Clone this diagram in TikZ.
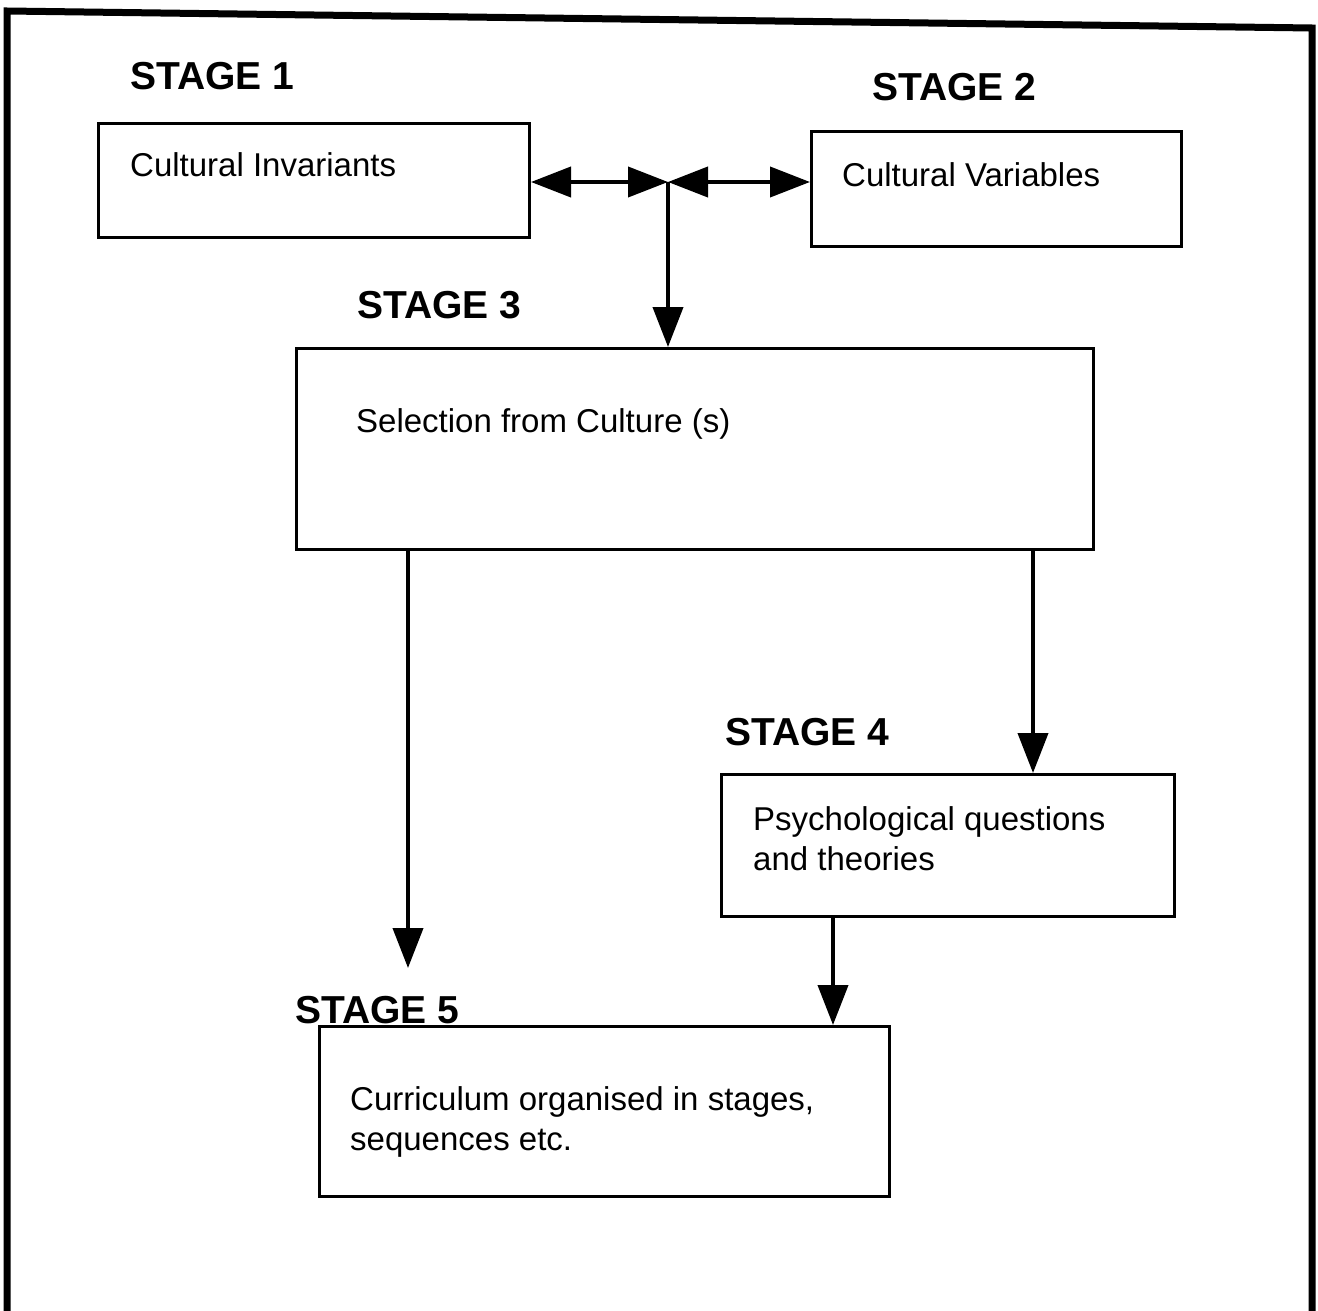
\documentclass[tikz,border=0pt]{standalone}
\usepackage{fontspec}
\setmainfont{Liberation Sans}
\usetikzlibrary{arrows.meta}
\begin{document}
\begin{tikzpicture}[x=1pt,y=-1pt,
  box/.style={draw,line width=3pt,rectangle,inner sep=0pt,anchor=north west},
  body/.style={anchor=base west,inner sep=0pt,align=left,font=\fontsize{33}{40}\selectfont},
  stagelbl/.style={anchor=base west,inner sep=0pt,font=\fontsize{39}{47}\selectfont\bfseries},
  arr/.style={line width=4pt,-{Triangle[length=40pt,width=30pt]}},
  arrtwo/.style={line width=4pt,{Triangle[length=40pt,width=30pt]}-{Triangle[length=40pt,width=30pt]}},
  frame/.style={line width=7pt,line join=miter}]
\useasboundingbox (0,0) rectangle (1318,1311);

% outer frame (top edge slightly tilted)
\draw[frame] (7,1320) -- (7,11) -- (1312,28) -- (1312,1320);

% boxes
\node[box,minimum width=431pt,minimum height=114pt] (b1) at (97,122) {};
\node[box,minimum width=370pt,minimum height=115pt] (b2) at (810,130) {};
\node[box,minimum width=797pt,minimum height=201pt] (b3) at (295,347) {};
\node[box,minimum width=453pt,minimum height=142pt] (b4) at (720,773) {};
\node[box,minimum width=570pt,minimum height=170pt] (b5) at (318,1025) {};

% stage headings
\node[stagelbl] (s1) at (130,90) {STAGE 1};
\node[stagelbl] (s2) at (872,101) {STAGE 2};
\node[stagelbl] (s3) at (357,318) {STAGE 3};
\node[stagelbl] (s4) at (725,745) {STAGE 4};
\node[stagelbl] (s5) at (295,1023) {STAGE 5};

% box texts (base anchor of a two-line node sits on its last line)
\node[body] (t1) at (130,177) {Cultural Invariants};
\node[body] (t2) at (842,186) {Cultural Variables};
\node[body] (t3) at (356,432) {Selection from Culture (s)};
\node[body] (t4) at (753,870) {Psychological questions\\and theories};
\node[body] (t5) at (350,1150) {Curriculum organised in stages,\\sequences etc.};

% connectors
\coordinate (J) at (668,182);
\coordinate (e5) at (408,968);
\coordinate (c4) at (1033,0);
\coordinate (c5) at (833,0);

\draw[arrtwo] (J -| b1.east) -- (J);
\draw[arrtwo] (J) -- (J -| b2.west);
\draw[arr] (J) -- (J |- b3.north);
\draw[arr] (e5 |- b3.south) -- (e5);
\draw[arr] (c4 |- b3.south) -- (c4 |- b4.north);
\draw[arr] (c5 |- b4.south) -- (c5 |- b5.north);
\end{tikzpicture}
\end{document}
